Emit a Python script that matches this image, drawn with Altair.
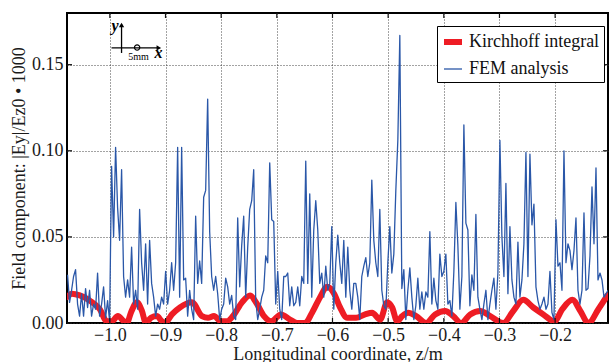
import altair as alt
import pandas as pd

# ---------------- data ----------------
SERIES = ["Kirchhoff integral", "FEM analysis"]
COLORS = ["#ee1c24", "#2a57a8"]
WIDTHS = [6, 1.3]

# FEM analysis (blue), evenly sampled from Z_START to Z_END
Z_START = -1.076
Z_END = -0.105
FEM_VALUES = [
    0.028, 0.012, 0.019, 0.027, 0.031, 0.011, 0.004, 0.017, 0.004, 0.020,
    0.009, 0.019, 0.004, 0.011, 0.008, 0.029, 0.004, 0.011, 0.021, 0.003,
    0.013, 0.001, 0.091, 0.050, 0.102, 0.067, 0.048, 0.089, 0.027, 0.015,
    0.025, 0.015, 0.044, 0.011, 0.019, 0.008, 0.066, 0.035, 0.019, 0.046,
    0.011, 0.048, 0.023, 0.015, 0.004, 0.011, 0.008, 0.015, 0.011, 0.030,
    0.011, 0.019, 0.035, 0.019, 0.035, 0.102, 0.015, 0.102, 0.025, 0.026,
    0.004, 0.019, 0.008, 0.002, 0.062, 0.023, 0.036, 0.023, 0.073, 0.077,
    0.130, 0.053, 0.027, 0.019, 0.027, 0.017, 0.002, 0.008, 0.011, 0.026,
    0.021, 0.011, 0.016, 0.004, 0.002, 0.061, 0.021, 0.045, 0.062, 0.015,
    0.044, 0.066, 0.071, 0.089, 0.013, 0.002, 0.008, 0.015, 0.019, 0.039,
    0.035, 0.093, 0.060, 0.059, 0.011, 0.030, 0.008, 0.002, 0.027, 0.027,
    0.029, 0.010, 0.021, 0.010, 0.012, 0.021, 0.010, 0.027, 0.023, 0.094,
    0.023, 0.075, 0.015, 0.054, 0.071, 0.054, 0.023, 0.029, 0.015, 0.033,
    0.019, 0.023, 0.056, 0.008, 0.035, 0.051, 0.035, 0.023, 0.048, 0.015,
    0.044, 0.019, 0.008, 0.023, 0.023, 0.015, 0.002, 0.027, 0.033, 0.038,
    0.027, 0.035, 0.083, 0.048, 0.035, 0.027, 0.066, 0.019, 0.010, 0.008,
    0.035, 0.056, 0.029, 0.040, 0.077, 0.106, 0.167, 0.020, 0.031, 0.002,
    0.019, 0.032, 0.015, 0.002, 0.010, 0.026, 0.008, 0.018, 0.008, 0.018,
    0.015, 0.053, 0.011, 0.026, 0.013, 0.008, 0.040, 0.027, 0.030, 0.040,
    0.011, 0.013, 0.004, 0.030, 0.070, 0.045, 0.008, 0.027, 0.115, 0.058,
    0.054, 0.010, 0.028, 0.019, 0.063, 0.015, 0.008, 0.002, 0.011, 0.019,
    0.002, 0.011, 0.019, 0.026, 0.008, 0.029, 0.106, 0.050, 0.027, 0.081,
    0.017, 0.056, 0.025, 0.015, 0.011, 0.047, 0.015, 0.025, 0.046, 0.099,
    0.027, 0.098, 0.057, 0.069, 0.021, 0.013, 0.008, 0.011, 0.015, 0.008,
    0.011, 0.030, 0.006, 0.002, 0.060, 0.033, 0.035, 0.019, 0.100, 0.035,
    0.046, 0.042, 0.031, 0.042, 0.061, 0.019, 0.011, 0.019, 0.064, 0.019,
    0.020, 0.039, 0.079, 0.046, 0.090, 0.025, 0.029, 0.025, 0.015, 0.017,
    0.019,
]

# Kirchhoff integral (red)
KIRCH_Z = [
    -1.0773, -1.0683, -1.054, -1.036, -1.018, -1.0054, -0.9964, -0.9856, -0.9748, -0.9694,
    -0.9622, -0.9514, -0.9424, -0.9353, -0.9263, -0.9155, -0.9065, -0.9011, -0.8885, -0.8741,
    -0.8525, -0.8345, -0.8237, -0.8129, -0.8004, -0.7896, -0.7788, -0.7626, -0.7482, -0.7356,
    -0.723, -0.7104, -0.6924, -0.6763, -0.6637, -0.6493, -0.6367, -0.6223, -0.6097, -0.5971,
    -0.5863, -0.5737, -0.5576, -0.5414, -0.5288, -0.5144, -0.5018, -0.4928, -0.4838, -0.4748,
    -0.464, -0.4496, -0.4317, -0.4155, -0.3975, -0.3831, -0.3687, -0.3525, -0.3345, -0.3165,
    -0.2932, -0.2752, -0.2572, -0.2392, -0.2212, -0.2014, -0.1871, -0.1691, -0.1547, -0.1403,
    -0.1223, -0.1061,
]
KIRCH_V = [
    0.015, 0.017, 0.016, 0.013, 0.008, 0.001, 0.001, 0.004, 0.001, 0.000,
    0.006, 0.012, 0.007, 0.000, 0.003, 0.004, 0.001, 0.000, 0.005, 0.009,
    0.012, 0.004, 0.003, 0.004, 0.001, 0.001, 0.004, 0.012, 0.016, 0.011,
    0.004, 0.001, 0.005, 0.002, 0.000, 0.000, 0.006, 0.015, 0.021, 0.017,
    0.009, 0.003, 0.003, 0.005, 0.006, 0.002, 0.012, 0.009, 0.001, 0.004,
    0.006, 0.004, 0.000, 0.005, 0.007, 0.004, 0.000, 0.005, 0.007, 0.004,
    0.000, 0.007, 0.0135, 0.009, 0.005, 0.001, 0.008, 0.0135, 0.007, 0.000,
    0.008, 0.016,
]

X_TICKS = [-1.0, -0.9, -0.8, -0.7, -0.6, -0.5, -0.4, -0.3, -0.2]
Y_TICKS = [0.0, 0.05, 0.10, 0.15]
X_DOMAIN = [-1.077, -0.105]
Y_DOMAIN = [0.0, 0.18]

# small axis-orientation icon (data units)
ICON_LINES_Z = [-0.979, -0.997]
ICON_LINES_Z2 = [-0.979, -0.912]
ICON_LINES_V = [0.1568, 0.1597]
ICON_LINES_V2 = [0.1735, 0.1597]
ICON_HEADS_Z = [-0.979, -0.912]
ICON_HEADS_V = [0.1730, 0.1597]
ICON_HEADS_SHAPE = ["triangle-up", "triangle-right"]
ICON_CIRCLE = (-0.951, 0.1600)
ICON_TEXT = ["y", "x"]
ICON_TEXT_Z = [-0.9905, -0.9125]
ICON_TEXT_V = [0.1722, 0.1570]
ICON_SCALE_TEXT = ("5mm", -0.9485, 0.1547)

# ---------------- chart ----------------
FONT = "Liberation Serif"
W, H = 541, 310

n = len(FEM_VALUES)
fem = pd.DataFrame({
    "z": [Z_START + (Z_END - Z_START) * i / (n - 1) for i in range(n)],
    "v": FEM_VALUES,
    "series": SERIES[1],
})
kir = pd.DataFrame({"z": KIRCH_Z, "v": KIRCH_V, "series": SERIES[0]})

xs = alt.Scale(domain=X_DOMAIN, nice=False, zero=False)
ys = alt.Scale(domain=Y_DOMAIN, nice=False)

x_enc = alt.X(
    "z:Q", scale=xs,
    axis=alt.Axis(values=X_TICKS, format=".1f", title="Longitudinal coordinate, z/m",
                  ticks=False, domain=False, labelPadding=3, titlePadding=1,
                  grid=True),
)
y_enc = alt.Y(
    "v:Q", scale=ys,
    axis=alt.Axis(values=Y_TICKS, format=".2f",
                  title="Field component: |Ey|/Ez0 \u2022 1000",
                  ticks=False, domain=False, labelPadding=4, titlePadding=3,
                  grid=True),
)
color = alt.Color("series:N", scale=alt.Scale(domain=SERIES, range=COLORS),
                  legend=alt.Legend(title=None))
swidth = alt.StrokeWidth("series:N", scale=alt.Scale(domain=SERIES, range=WIDTHS),
                         legend=alt.Legend(title=None))

red = alt.Chart(kir).mark_line(interpolate="monotone", clip=True,
                               strokeCap="round", strokeJoin="round").encode(
    x=x_enc, y=y_enc, color=color, strokeWidth=swidth)
blue = alt.Chart(fem).mark_line(clip=True, strokeJoin="round").encode(
    x="z:Q", y="v:Q", color=color, strokeWidth=swidth)

# inward tick marks on all four sides
xt = pd.DataFrame({"t": X_TICKS})
yt = pd.DataFrame({"t": Y_TICKS})
tick_col = "#111111"
tb = alt.Chart(xt).mark_rule(color=tick_col, strokeWidth=1.2).encode(
    x="t:Q", y=alt.value(H), y2=alt.value(H - 5))
tt = alt.Chart(xt).mark_rule(color=tick_col, strokeWidth=1.2).encode(
    x="t:Q", y=alt.value(0), y2=alt.value(5))
tl = alt.Chart(yt).mark_rule(color=tick_col, strokeWidth=1.2).encode(
    y="t:Q", x=alt.value(0), x2=alt.value(5))
tr = alt.Chart(yt).mark_rule(color=tick_col, strokeWidth=1.2).encode(
    y="t:Q", x=alt.value(W), x2=alt.value(W - 5))

# icon
icon_lines = alt.Chart(pd.DataFrame({
    "z": ICON_LINES_Z, "z2": ICON_LINES_Z2, "v": ICON_LINES_V, "v2": ICON_LINES_V2,
})).mark_rule(color="black", strokeWidth=1.3).encode(x="z:Q", x2="z2:Q", y="v:Q", y2="v2:Q")
icon_heads = alt.Chart(pd.DataFrame({
    "z": ICON_HEADS_Z, "v": ICON_HEADS_V, "s": ICON_HEADS_SHAPE,
})).mark_point(filled=True, color="black", size=28, opacity=1).encode(
    x="z:Q", y="v:Q", shape=alt.Shape("s:N", scale=None, legend=None))
icon_circle = alt.Chart(pd.DataFrame({
    "z": [ICON_CIRCLE[0]], "v": [ICON_CIRCLE[1]],
})).mark_point(shape="circle", filled=False, color="black", size=28,
               strokeWidth=1.2, opacity=1).encode(x="z:Q", y="v:Q")
icon_text = alt.Chart(pd.DataFrame({
    "z": ICON_TEXT_Z, "v": ICON_TEXT_V, "t": ICON_TEXT,
})).mark_text(font=FONT, fontSize=16, fontStyle="italic", fontWeight="bold",
              color="black").encode(x="z:Q", y="v:Q", text="t:N")
icon_scale = alt.Chart(pd.DataFrame({
    "z": [ICON_SCALE_TEXT[1]], "v": [ICON_SCALE_TEXT[2]], "t": [ICON_SCALE_TEXT[0]],
})).mark_text(font=FONT, fontSize=10, color="black").encode(x="z:Q", y="v:Q", text="t:N")

chart = alt.layer(
    red, blue, tb, tt, tl, tr, icon_lines, icon_heads, icon_circle, icon_text, icon_scale
).properties(
    width=W, height=H,
    autosize=alt.AutoSizeParams(type="none"),
    padding={"left": 67, "top": 13, "right": 2, "bottom": 39},
    background="white",
).configure_view(
    stroke="black", strokeWidth=2,
).configure_axis(
    labelFont=FONT, labelFontSize=18, labelColor="#1a1a1a",
    titleFont=FONT, titleFontSize=18, titleColor="#1a1a1a", titleFontWeight="normal",
    gridColor="#333333", gridDash=[1, 2], gridWidth=1, gridOpacity=0.9,
).configure_legend(
    orient="none", legendX=370, legendY=13,
    symbolType="stroke", symbolSize=324,
    labelFont=FONT, labelFontSize=18, labelColor="#111111", labelLimit=0,
    strokeColor="black", fillColor="white", padding=4, rowPadding=5,
    cornerRadius=0, symbolOpacity=1,
)

chart.save("out.html", embed_options={"renderer": "svg", "actions": False})
